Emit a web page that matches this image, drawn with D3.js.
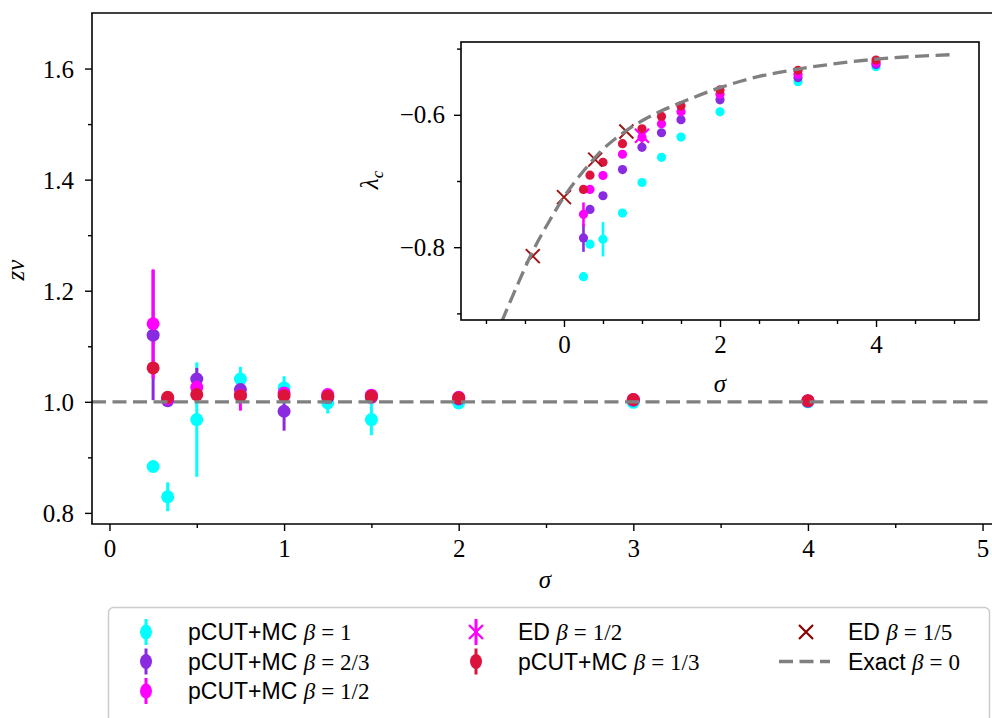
<!DOCTYPE html>
<html><head><meta charset="utf-8">
<script src="https://cdn.jsdelivr.net/npm/d3@7"></script>
<style>body{margin:0;background:#fff} svg{display:block}</style>
</head><body>
<svg id="chart" width="992" height="718"></svg>
<script>
// ---------------- data ----------------
const sigma = [0.25, 1/3, 0.5, 0.75, 1, 1.25, 1.5, 2, 3, 4];

// main panel: z*nu
const znuB1     = [0.8835, 0.829, 0.968, 1.041, 1.025, 0.998, 0.968, 0.998, 0.999, 1.000];
const znuB1Err  = [0.004, 0.026, 0.103, 0.022, 0.021, 0.019, 0.028, 0.004, 0.003, 0.002];
const znuB23    = [1.120, 1.002, 1.041, 1.022, 0.983, 1.008, 1.008, 1.005, 1.003, 1.001];
const znuB23Err = [0.117, 0.006, 0.020, 0.010, 0.035, 0.006, 0.006, 0.004, 0.003, 0.002];
const znuB12    = [1.1405, 1.006, 1.026, 1.012, 1.016, 1.013, 1.012, 1.008, 1.004, 1.002];
const znuB12Err = [0.098, 0.005, 0.010, 0.028, 0.010, 0.005, 0.005, 0.004, 0.003, 0.002];
const znuB13    = [1.061, 1.008, 1.013, 1.011, 1.011, 1.010, 1.010, 1.007, 1.004, 1.002];
const znuB13Err = [0.010, 0.004, 0.006, 0.006, 0.005, 0.004, 0.004, 0.003, 0.003, 0.002];
const znuExactX = [-0.1, 5.1];
const znuExactY = [1.0, 1.0];

// inset: lambda_c
const lamB1     = [-0.8446, -0.7955, -0.788, -0.7484, -0.7023, -0.6642, -0.6336, -0.5955, -0.5499, -0.5273];
const lamB1Err  = [0.003, 0.003, 0.026, 0.003, 0.002, 0.002, 0.002, 0.002, 0.002, 0.002];
const lamB23    = [-0.786, -0.7429, -0.7223, -0.6827, -0.6491, -0.6271, -0.6075, -0.5774, -0.5439, -0.5238];
const lamB23Err = [0.021, 0.003, 0.003, 0.002, 0.002, 0.002, 0.002, 0.002, 0.002, 0.002];
const lamB12    = [-0.7504, -0.7128, -0.6917, -0.6596, -0.634, -0.6135, -0.5955, -0.5689, -0.5388, -0.5213];
const lamB12Err = [0.018, 0.003, 0.003, 0.002, 0.002, 0.002, 0.002, 0.002, 0.002, 0.002];
const lamB13    = [-0.7128, -0.6912, -0.6717, -0.6436, -0.6211, -0.6025, -0.5865, -0.5624, -0.5328, -0.5173];
const lamB13Err = [0.003, 0.003, 0.002, 0.002, 0.002, 0.002, 0.002, 0.002, 0.002, 0.002];
const edB12Sigma = [1];
const edB12Lam   = [-0.6316];
const edB12Err   = [0.012];
const edB15Sigma = [-0.4, 0, 0.4, 0.8];
const edB15Lam   = [-0.8135, -0.7243, -0.6677, -0.6251];
const exactSigma = [-0.8, -0.6, -0.4, -0.2, 0, 0.25, 0.5, 0.75, 1, 1.25, 1.5, 2, 2.5, 3, 4, 5];
const exactLam   = [-0.913, -0.858, -0.806, -0.763, -0.724, -0.685, -0.652, -0.628, -0.609, -0.594, -0.5815, -0.559, -0.542, -0.531, -0.516, -0.509];

// tick labels
const mainXTicks = [0, 1, 2, 3, 4, 5];
const mainYTicks = [0.8, 1.0, 1.2, 1.4, 1.6];
const insetXTicks = [0, 2, 4];
const insetYTicks = [-0.8, -0.6];

const COL = {b1: "#00ffff", b23: "#8a2be2", b12: "#ff00ff", b13: "#dc143c", ed15: "#a01414", exact: "#808080"};

const seriesMain = [
  {v: znuB1, e: znuB1Err, c: COL.b1},
  {v: znuB23, e: znuB23Err, c: COL.b23},
  {v: znuB12, e: znuB12Err, c: COL.b12},
  {v: znuB13, e: znuB13Err, c: COL.b13}
];
const seriesInset = [
  {v: lamB1, e: lamB1Err, c: COL.b1},
  {v: lamB23, e: lamB23Err, c: COL.b23},
  {v: lamB12, e: lamB12Err, c: COL.b12},
  {v: lamB13, e: lamB13Err, c: COL.b13}
];

// ---------------- drawing ----------------
const svg = d3.select("#chart");
const SERIF = "'Liberation Serif','DejaVu Serif',serif";
const SANS = "'Liberation Sans','DejaVu Sans',sans-serif";
const fmt = d => (d < 0 ? "\u2212" : "") + Math.abs(d).toFixed(1);

// main scales
const x = d3.scaleLinear().domain([-0.1, 5.1]).range([92, 1000]);
const y = d3.scaleLinear().domain([0.78, 1.70]).range([524, 13]);

svg.append("clipPath").attr("id", "mainclip").append("rect")
  .attr("x", 92).attr("y", 13).attr("width", 908).attr("height", 511);

const gm = svg.append("g").attr("clip-path", "url(#mainclip)");
// error bars first (all series), then markers
seriesMain.forEach(s => {
  gm.append("g").selectAll("line").data(sigma).join("line")
    .attr("x1", d => x(d)).attr("x2", d => x(d))
    .attr("y1", (d, i) => y(s.v[i] - s.e[i])).attr("y2", (d, i) => y(s.v[i] + s.e[i]))
    .attr("stroke", s.c).attr("stroke-width", 3);
});
seriesMain.forEach(s => {
  gm.append("g").selectAll("circle").data(sigma).join("circle")
    .attr("cx", d => x(d)).attr("cy", (d, i) => y(s.v[i])).attr("r", 6.5)
    .attr("fill", s.c);
});
gm.append("path").datum(znuExactX.map((d, i) => [d, znuExactY[i]]))
  .attr("d", d3.line().x(d => x(d[0])).y(d => y(d[1])))
  .attr("fill", "none").attr("stroke", COL.exact).attr("stroke-width", 3.3)
  .attr("stroke-dasharray", "14,6.5");

// main axes
const axG = svg.append("g");
function styleAxis(g) {
  g.select(".domain").remove();
  g.selectAll(".tick line").attr("stroke", "#000").attr("stroke-width", 1.4);
  g.selectAll(".tick text").attr("font-family", SERIF).attr("font-size", 25).attr("fill", "#000");
}
const xAx = axG.append("g").attr("transform", "translate(0,524)")
  .call(d3.axisBottom(x).tickValues(mainXTicks).tickFormat(d3.format("d")).tickSize(7).tickPadding(8));
styleAxis(xAx);
axG.append("g").attr("transform", "translate(0,524)")
  .call(d3.axisBottom(x).tickValues([0.5, 1.5, 2.5, 3.5, 4.5]).tickFormat("").tickSize(4)).call(styleAxis);
const yAx = axG.append("g").attr("transform", "translate(92,0)")
  .call(d3.axisLeft(y).tickValues(mainYTicks).tickFormat(d => d.toFixed(1)).tickSize(7).tickPadding(11));
styleAxis(yAx);
yAx.selectAll(".tick text").attr("dy", "0.35em");
axG.append("g").attr("transform", "translate(92,0)")
  .call(d3.axisLeft(y).tickValues([0.9, 1.1, 1.3, 1.5]).tickFormat("").tickSize(4)).call(styleAxis);
// spines
axG.append("line").attr("x1", 92).attr("x2", 92).attr("y1", 13).attr("y2", 524).attr("stroke", "#000").attr("stroke-width", 1.6);
axG.append("line").attr("x1", 91.2).attr("x2", 1000).attr("y1", 524).attr("y2", 524).attr("stroke", "#000").attr("stroke-width", 1.6);
axG.append("line").attr("x1", 91.2).attr("x2", 1000).attr("y1", 13).attr("y2", 13).attr("stroke", "#000").attr("stroke-width", 1.6);

svg.append("text").attr("x", 545).attr("y", 588).attr("text-anchor", "middle")
  .attr("font-family", SERIF).attr("font-style", "italic").attr("font-size", 25).text("σ");
svg.append("text").attr("transform", "translate(24,270) rotate(-90)").attr("text-anchor", "middle")
  .attr("font-family", SERIF).attr("font-style", "italic").attr("font-size", 25).text("zν");

// ---------------- inset ----------------
const xi = d3.scaleLinear().domain([-1.32, 5.32]).range([461, 979]);
const yi = d3.scaleLinear().domain([-0.91, -0.49]).range([320, 42]);
svg.append("rect").attr("x", 461).attr("y", 42).attr("width", 518).attr("height", 278).attr("fill", "#fff");
svg.append("clipPath").attr("id", "insetclip").append("rect")
  .attr("x", 461).attr("y", 42).attr("width", 518).attr("height", 278);
const gi = svg.append("g").attr("clip-path", "url(#insetclip)");
seriesInset.forEach(s => {
  gi.append("g").selectAll("line").data(sigma).join("line")
    .attr("x1", d => xi(d)).attr("x2", d => xi(d))
    .attr("y1", (d, i) => yi(s.v[i] - s.e[i])).attr("y2", (d, i) => yi(s.v[i] + s.e[i]))
    .attr("stroke", s.c).attr("stroke-width", 2.6);
});
gi.append("g").selectAll("line").data(edB12Sigma).join("line")
  .attr("x1", d => xi(d)).attr("x2", d => xi(d))
  .attr("y1", (d, i) => yi(edB12Lam[i] - edB12Err[i])).attr("y2", (d, i) => yi(edB12Lam[i] + edB12Err[i]))
  .attr("stroke", COL.b12).attr("stroke-width", 2.6);
seriesInset.forEach(s => {
  gi.append("g").selectAll("circle").data(sigma).join("circle")
    .attr("cx", d => xi(d)).attr("cy", (d, i) => yi(s.v[i])).attr("r", 4.6)
    .attr("fill", s.c);
});
function cross(g, cx, cy, h, color, w) {
  g.append("path").attr("d", `M${cx - h},${cy - h}L${cx + h},${cy + h}M${cx - h},${cy + h}L${cx + h},${cy - h}`)
    .attr("stroke", color).attr("stroke-width", w).attr("fill", "none");
}
edB12Sigma.forEach((d, i) => cross(gi, xi(d), yi(edB12Lam[i]), 7, COL.b12, 2.2));
edB15Sigma.forEach((d, i) => cross(gi, xi(d), yi(edB15Lam[i]), 7, COL.ed15, 2.0));
gi.append("path").datum(exactSigma.map((d, i) => [d, exactLam[i]]))
  .attr("d", d3.line().curve(d3.curveMonotoneX).x(d => xi(d[0])).y(d => yi(d[1])))
  .attr("fill", "none").attr("stroke", COL.exact).attr("stroke-width", 3.3)
  .attr("stroke-dasharray", "14,6.5");

const iaxG = svg.append("g");
const xiAx = iaxG.append("g").attr("transform", "translate(0,320)")
  .call(d3.axisBottom(xi).tickValues(insetXTicks).tickFormat(d3.format("d")).tickSize(7).tickPadding(8));
styleAxis(xiAx);
iaxG.append("g").attr("transform", "translate(0,320)")
  .call(d3.axisBottom(xi).tickValues([-1, -0.5, 0.5, 1, 1.5, 2.5, 3, 3.5, 4.5, 5]).tickFormat("").tickSize(4)).call(styleAxis);
const yiAx = iaxG.append("g").attr("transform", "translate(461,0)")
  .call(d3.axisLeft(yi).tickValues(insetYTicks).tickFormat(fmt).tickSize(7).tickPadding(9));
styleAxis(yiAx);
iaxG.append("g").attr("transform", "translate(461,0)")
  .call(d3.axisLeft(yi).tickValues([-0.9, -0.7, -0.5]).tickFormat("").tickSize(4)).call(styleAxis);
iaxG.append("rect").attr("x", 461).attr("y", 42).attr("width", 518).attr("height", 278)
  .attr("fill", "none").attr("stroke", "#000").attr("stroke-width", 1.6);
svg.append("text").attr("x", 720).attr("y", 392).attr("text-anchor", "middle")
  .attr("font-family", SERIF).attr("font-style", "italic").attr("font-size", 25).text("σ");
const lt = svg.append("text").attr("transform", "translate(378,180) rotate(-90)").attr("text-anchor", "middle")
  .attr("font-family", SERIF).attr("font-style", "italic").attr("font-size", 25);
lt.append("tspan").text("λ");
lt.append("tspan").attr("font-size", 17).attr("dy", 5).text("c");

// ---------------- legend ----------------
const leg = svg.append("g");
leg.append("rect").attr("x", 108.5).attr("y", 607.5).attr("width", 881).attr("height", 130).attr("rx", 5)
  .attr("fill", "#fff").attr("stroke", "#cccccc").attr("stroke-width", 1.5);
const legendItems = [
  {type: "eb", c: COL.b1, label: "pCUT+MC ", math: "1", col: 0, row: 0},
  {type: "eb", c: COL.b23, label: "pCUT+MC ", math: "2/3", col: 0, row: 1},
  {type: "eb", c: COL.b12, label: "pCUT+MC ", math: "1/2", col: 0, row: 2},
  {type: "edx", c: COL.b12, label: "ED ", math: "1/2", col: 1, row: 0},
  {type: "eb", c: COL.b13, label: "pCUT+MC ", math: "1/3", col: 1, row: 1},
  {type: "x", c: "#8b0000", label: "ED ", math: "1/5", col: 2, row: 0},
  {type: "dash", c: COL.exact, label: "Exact ", math: "0", col: 2, row: 1}
];
const colX = [146, 476, 806];
const rowY = [632, 661.5, 691];
legendItems.forEach(it => {
  const cx = colX[it.col], cy = rowY[it.row];
  if (it.type === "eb" || it.type === "edx") {
    leg.append("line").attr("x1", cx).attr("x2", cx).attr("y1", cy - 13).attr("y2", cy + 13)
      .attr("stroke", it.c).attr("stroke-width", 3);
  }
  if (it.type === "eb") {
    leg.append("ellipse").attr("cx", cx).attr("cy", cy).attr("rx", 6).attr("ry", 7.5).attr("fill", it.c);
  }
  if (it.type === "edx") cross(leg, cx, cy, 7, it.c, 2.4);
  if (it.type === "x") cross(leg, cx, cy, 7, it.c, 2.2);
  if (it.type === "dash") {
    leg.append("line").attr("x1", cx - 27).attr("x2", cx + 24).attr("y1", cy).attr("y2", cy)
      .attr("stroke", it.c).attr("stroke-width", 3.3).attr("stroke-dasharray", "14,6.5");
  }
  const t = leg.append("text").attr("x", cx + 42).attr("y", cy + 8).attr("font-size", 23);
  t.append("tspan").attr("font-family", SANS).text(it.label);
  t.append("tspan").attr("font-family", SERIF).attr("font-style", "italic").text("β");
  t.append("tspan").attr("font-family", SERIF).attr("dx", 6).text("=");
  t.append("tspan").attr("font-family", SERIF).attr("dx", 6).text(it.math);
});
</script>
</body></html>
